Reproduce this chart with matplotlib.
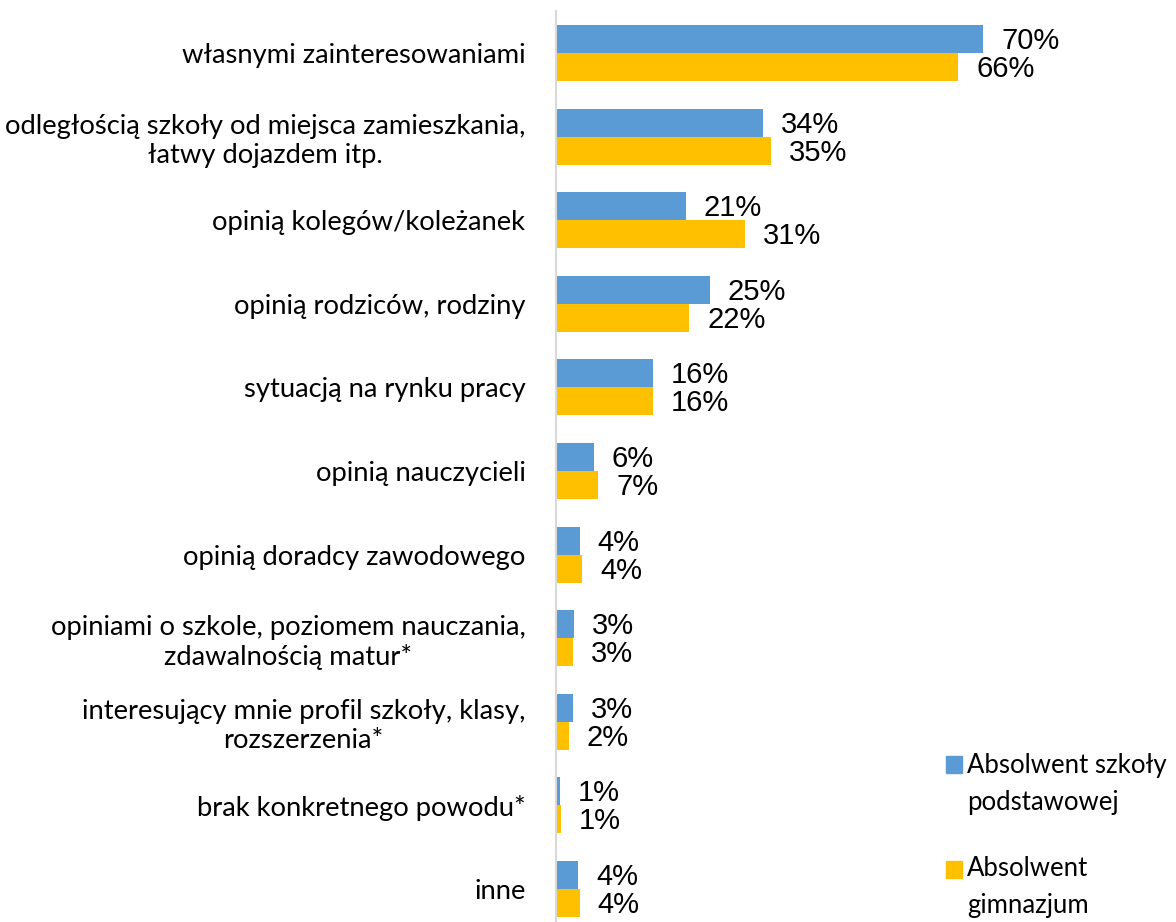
import matplotlib
matplotlib.use("Agg")
import matplotlib.pyplot as plt
from matplotlib.patches import Rectangle
import numpy as np

categories = [
    "własnymi zainteresowaniami",
    "odległością szkoły od miejsca zamieszkania,\nłatwy dojazdem itp.",
    "opinią kolegów/koleżanek",
    "opinią rodziców, rodziny",
    "sytuacją na rynku pracy",
    "opinią nauczycieli",
    "opinią doradcy zawodowego",
    "opiniami o szkole, poziomem nauczania,\nzdawalnością matur*",
    "interesujący mnie profil szkoły, klasy,\nrozszerzenia*",
    "brak konkretnego powodu*",
    "inne",
]
podstawowa = [70.0, 33.9, 21.3, 25.2, 15.9, 6.2, 3.9, 3.0, 2.8, 0.6, 3.6]
gimnazjum = [65.9, 35.2, 31.0, 21.8, 15.9, 6.9, 4.3, 2.8, 2.1, 0.8, 3.9]
podstawowa_labels = ["70%", "34%", "21%", "25%", "16%", "6%", "4%", "3%", "3%", "1%", "4%"]
gimnazjum_labels = ["66%", "35%", "31%", "22%", "16%", "7%", "4%", "3%", "2%", "1%", "4%"]
series_names = ["Absolwent szkoły\npodstawowej", "Absolwent\ngimnazjum"]
colors = ["#5B9BD5", "#FFC000"]

W, H = 1176, 922
fig = plt.figure(figsize=(W / 100, H / 100), dpi=100)
left_px, right_px = 556, 556 + 610
top_px, bottom_px = 11.2, 930.8
ax = fig.add_axes([left_px / W, 1 - bottom_px / H, (right_px - left_px) / W, (bottom_px - top_px) / H])

n = len(categories)
y = np.arange(n)
h = 0.335
ax.barh(y - h / 2, podstawowa, height=h, color=colors[0], zorder=2)
ax.barh(y + h / 2, gimnazjum, height=h, color=colors[1], zorder=2)

ax.set_xlim(0, 100)
ax.set_ylim(n - 0.5, -0.5)

lab_kw = dict(textcoords="offset points", va="center", ha="left",
              fontsize=21, family="Liberation Sans", color="#000000")
for i in range(n):
    ax.annotate(podstawowa_labels[i], (podstawowa[i], y[i] - h / 2), xytext=(13, -1.5), **lab_kw)
    ax.annotate(gimnazjum_labels[i], (gimnazjum[i], y[i] + h / 2), xytext=(13, -1.5), **lab_kw)

ax.set_yticks(y)
ax.set_yticklabels(categories, fontsize=19.7, family="Lato", linespacing=1.2,
                   ha="right", multialignment="center")
ax.tick_params(axis="y", length=0, pad=22)

ax.set_xticks([])
for s in ["top", "right", "bottom"]:
    ax.spines[s].set_visible(False)
ax.spines["left"].set_color("#D9D9D9")
ax.spines["left"].set_linewidth(1.5)
ax.spines["left"].set_zorder(3)

# legend
leg_sq_x = 946
sq = 16.5
leg_items = [(756, 773, series_names[0], colors[0]), (861, 876, series_names[1], colors[1])]
for ytop, base, name, col in leg_items:
    fig.patches.append(Rectangle((leg_sq_x / W, 1 - (ytop + sq) / H), sq / W, sq / H,
                                 transform=fig.transFigure, color=col))
    for k, line in enumerate(name.split("\n")):
        fig.text(967 / W, 1 - (base + k * 37) / H, line, ha="left", va="baseline",
                 fontsize=18.5, family="Lato")

fig.savefig("out.png", dpi=100)
